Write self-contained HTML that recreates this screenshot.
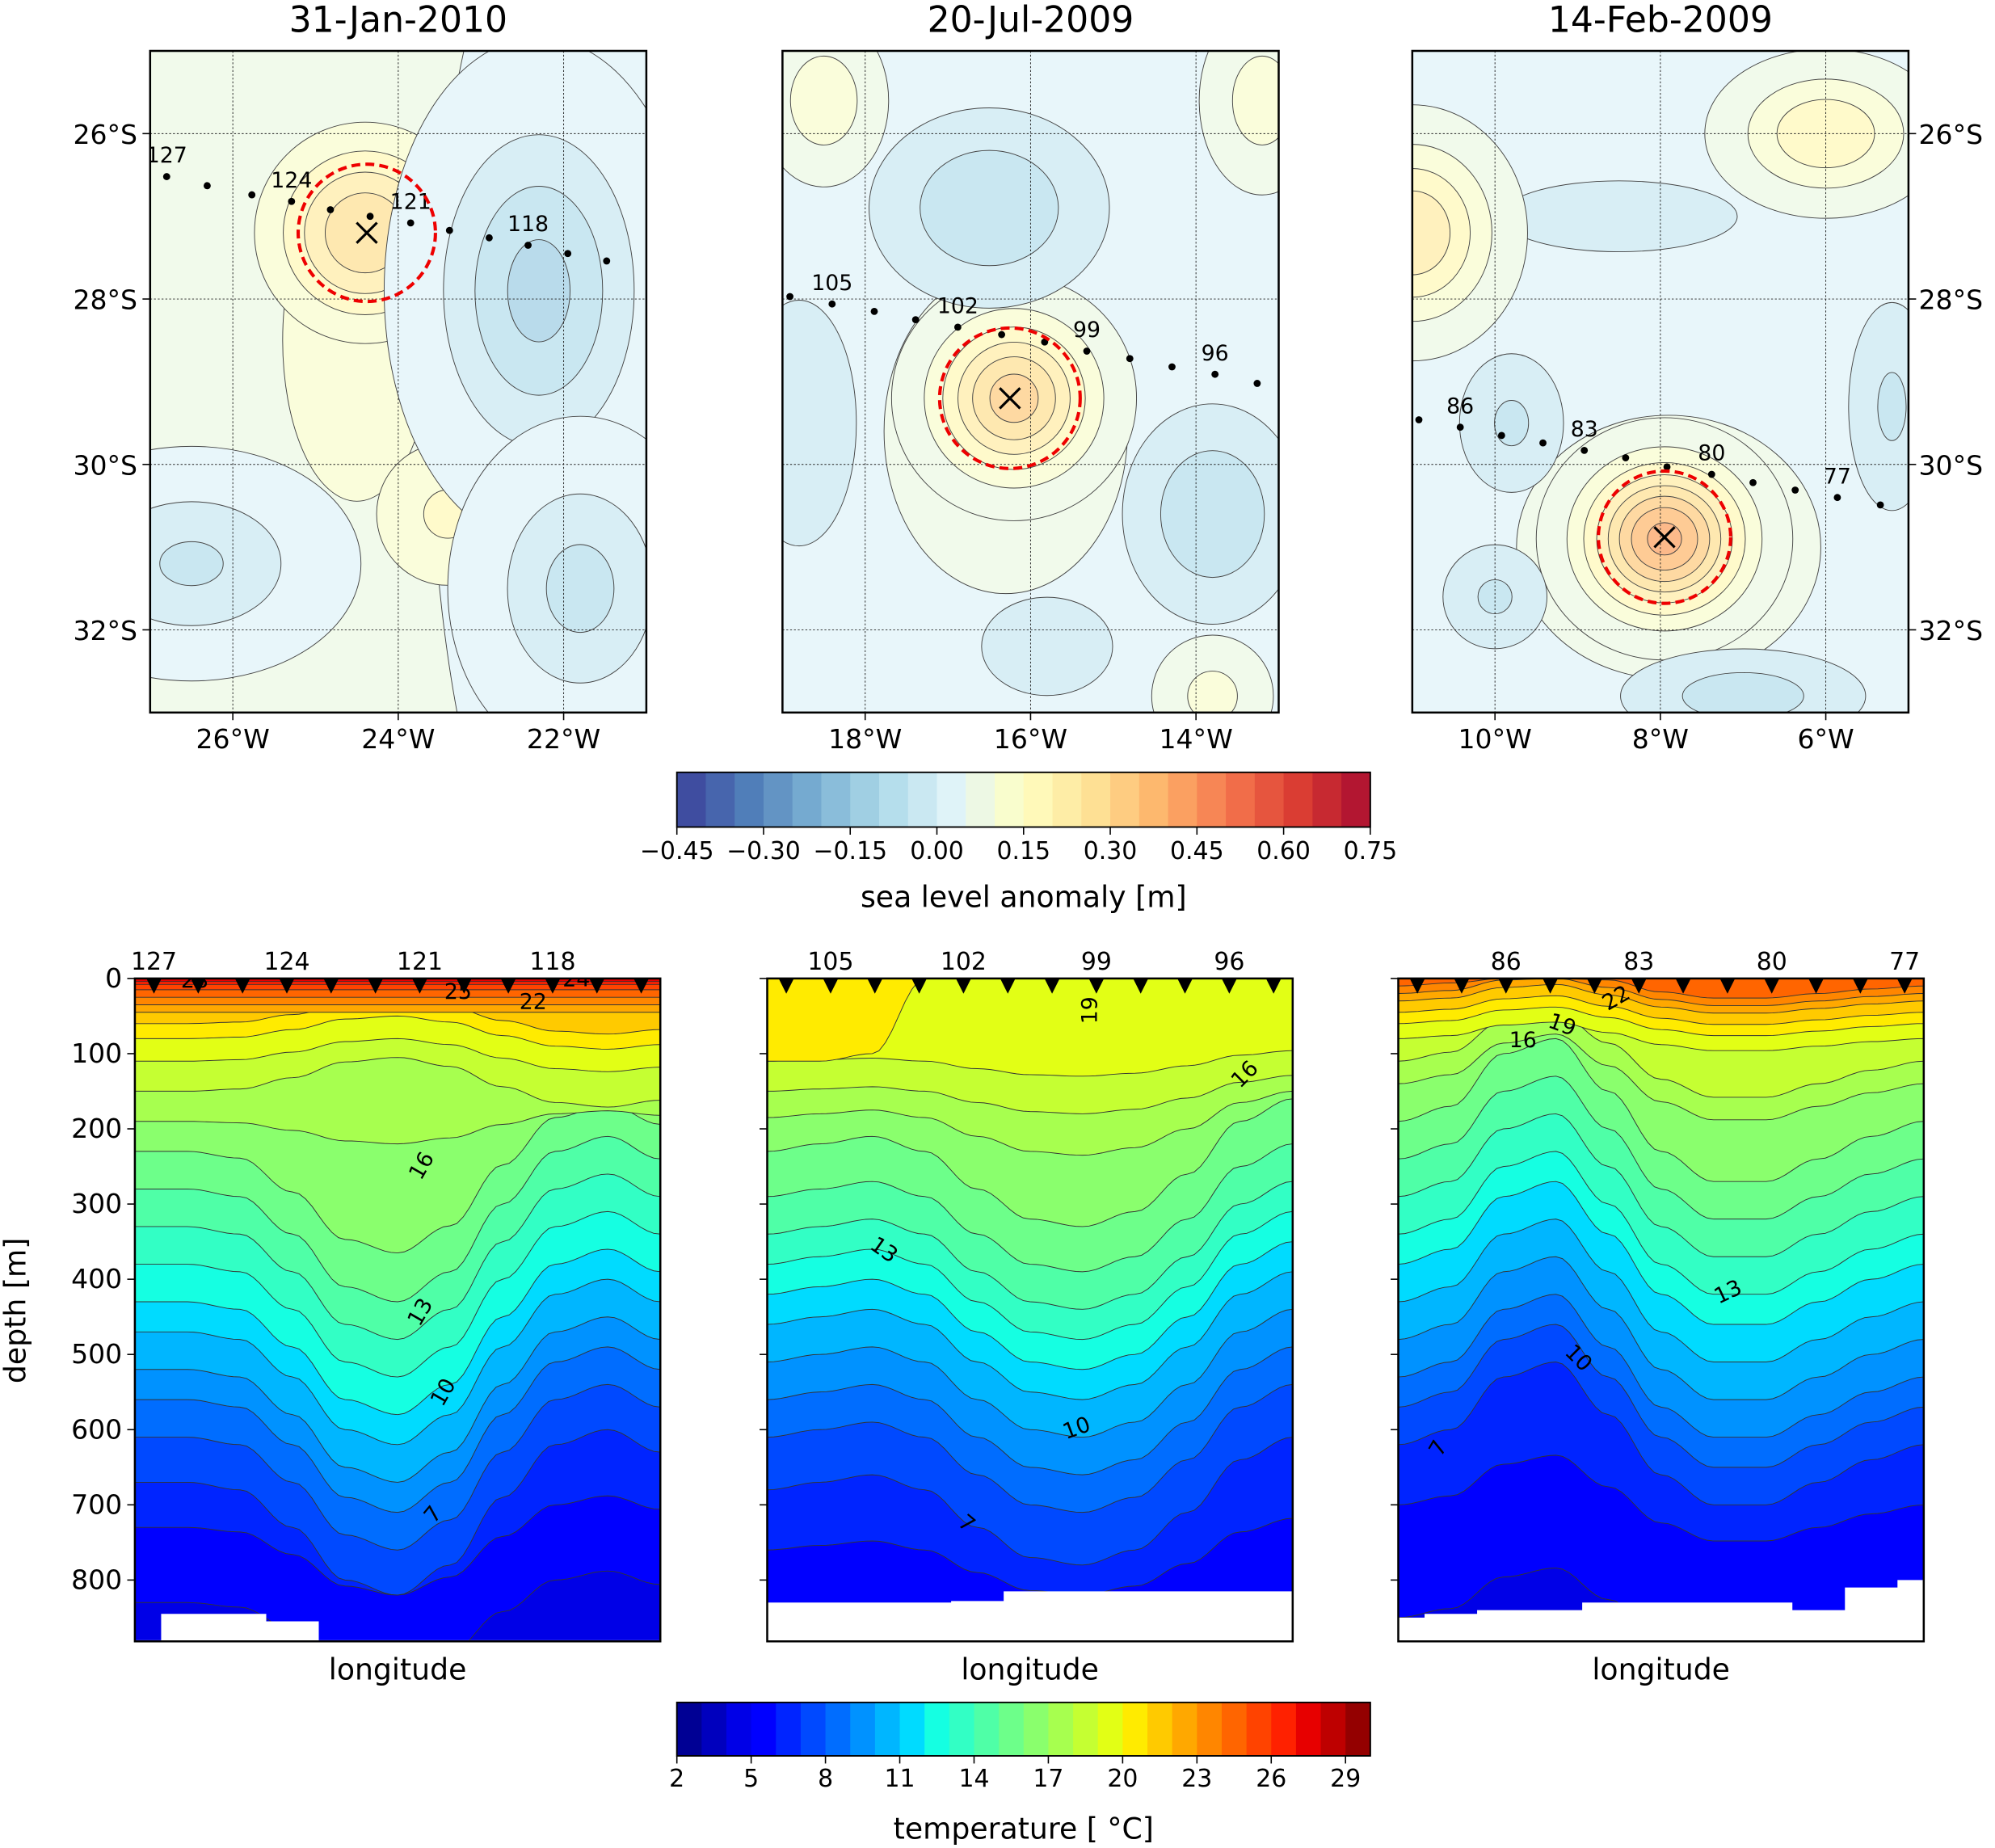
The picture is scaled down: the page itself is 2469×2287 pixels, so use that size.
<!DOCTYPE html>
<html><head><meta charset="utf-8"><style>
html,body{margin:0;padding:0;background:#fff}
svg{display:block}
text{font-family:"DejaVu Sans","Liberation Sans",sans-serif;fill:#000}
</style></head><body>
<svg id="fig" xmlns="http://www.w3.org/2000/svg" width="2469" height="2287" viewBox="0 0 1568 1452.4">
<defs id="defs"></defs>
<g id="root"></g>
</svg>
<script>
// ---------- DATA ----------
const mapTitles = ["31-Jan-2010","20-Jul-2009","14-Feb-2009"];
const mapLonRanges = [[-27,-21],[-19,-13],[-11,-5]];
const mapLonTicks = [[-26,-24,-22],[-18,-16,-14],[-10,-8,-6]];
const latTicks = [-26,-28,-30,-32];
const latRange = [-25,-33];
const slaBackground = [0.06,0.03,0.03];
// blobs: [lon, lat, amplitude(m), rlon, rlat]
const slaBlobs1 = [[-21.6,-29.2,-0.05,1.3,4.5],[-24.5,-28.5,0.13,1.2,2.6],[-24.4,-27.2,0.30,1.0,1.0],[-23.4,-30.6,0.16,0.9,0.9],[-22.3,-27.9,-0.12,1.1,1.8],[-21.8,-31.5,-0.07,1.0,1.3],[-26.5,-31.2,-0.06,1.3,0.9]];
const slaBlobs2 = [[-16.3,-29.6,0.12,1.2,1.6],[-16.2,-29.2,0.33,0.9,0.9],[-16.5,-26.9,-0.10,1.2,1.0],[-13.8,-30.6,-0.10,0.9,1.1],[-18.8,-29.5,-0.05,0.7,1.5],[-18.5,-25.6,0.14,0.6,0.8],[-13.2,-25.6,0.13,0.6,0.9],[-13.8,-32.8,0.12,0.6,0.6],[-15.8,-32.2,-0.05,0.8,0.6]];
const slaBlobs3 = [[-8.5,-27,-0.02,2,0.6],[-7.9,-31,0.12,1.5,1.3],[-7.95,-30.9,0.42,0.9,0.85],[-6,-26,0.2,1.0,0.7],[-11,-27.2,0.25,0.9,1.0],[-9.8,-29.5,-0.06,0.6,0.8],[-10,-31.6,-0.06,0.6,0.6],[-7,-32.8,-0.08,1.3,0.5],[-5.2,-29.3,-0.06,0.5,1.2]];
const eddyCenters = [[-24.38,-27.2],[-16.25,-29.2],[-7.95,-30.88]];
const eddyRadius = [0.83,0.85,0.8];
// float profile positions
const floatIds1 = [127,126,125,124,123,122,121,120,119,118,117,116];
const floatLon1 = [-26.8,-26.31,-25.77,-25.29,-24.82,-24.34,-23.85,-23.38,-22.9,-22.43,-21.95,-21.48];
const floatLat1 = [-26.52,-26.63,-26.74,-26.82,-26.92,-27.0,-27.08,-27.17,-27.26,-27.35,-27.45,-27.54];
const floatLabels1 = [127,124,121,118];
const floatIds2 = [106,105,104,103,102,101,100,99,98,97,96,95];
const floatLon2 = [-18.91,-18.4,-17.89,-17.39,-16.88,-16.35,-15.83,-15.32,-14.8,-14.29,-13.77,-13.26];
const floatLat2 = [-27.97,-28.06,-28.15,-28.25,-28.34,-28.43,-28.52,-28.63,-28.72,-28.82,-28.91,-29.02];
const floatLabels2 = [105,102,99,96];
const floatIds3 = [87,86,85,84,83,82,81,80,79,78,77,76];
const floatLon3 = [-10.92,-10.42,-9.92,-9.42,-8.92,-8.42,-7.92,-7.38,-6.88,-6.37,-5.86,-5.34];
const floatLat3 = [-29.46,-29.55,-29.65,-29.74,-29.83,-29.92,-30.03,-30.12,-30.22,-30.31,-30.4,-30.49];
const floatLabels3 = [86,83,80,77];
// temperature sections
const tempLevels = [3,4,5,6,7,8,9,10,11,12,13,14,15,16,17,18,19,20,21,22,23,24,25,26,27,28];
const baseDepth1 = [1000,1000,830,730,670,610,560,520,470,430,380,330,280,230,190,150,110,80,60,45,35,25,15,8,4,0];
const baseDepth2 = [1000,1000,900,760,680,610,560,510,460,420,380,340,290,230,185,150,110,0,0,0,0,0,0,0,0,0];
const baseDepth3 = [1000,1000,850,700,620,570,530,480,430,380,340,290,240,190,140,110,80,60,45,30,20,10,0,0,0,0];
const weight1 = [0.6,0.6,0.6,0.6,1,1,1,1,1,1,1,1,1,0.9,0.2,-0.3,-0.2,-0.2,-0.2,0,0,0,0,0,0,0];
const weight2 = [0.6,0.6,0.6,0.6,1,1,1,1,1,1,1,1,1,1,0.5,0.3,0.2,0,0,0,0,0,0,0,0,0];
const weight3 = [0.6,0.6,0.6,0.6,1,1,1,1,1,1,1,1,1,1,0.6,0.6,0.2,0.2,0.2,0.2,0.2,0.2,0,0,0,0];
const displacement1 = [0,0,10,60,130,150,110,20,-50,-70,-40];
const displacement2 = [0,-10,-20,0,50,90,100,80,30,-40,-70];
const displacement3 = [0,-20,-90,-110,-40,40,80,80,50,20,0];
const override2_20 = [110,110,100,0,0,0,0,0,0,0,0];
const noData1 = [880,845,845,855,880,880,880,880,880,880,880];
const noData2 = [830,830,830,830,828,815,815,815,815,815,815];
const noData3 = [850,845,840,840,830,830,830,830,840,810,800];
const floatIdsS1 = [127,126,125,124,123,122,121,120,119,118,117,116];
const floatIdsS2 = [106,105,104,103,102,101,100,99,98,97,96,95];
const floatIdsS3 = [88,87,86,85,84,83,82,81,80,79,78,77];
const depthTicks = [0,100,200,300,400,500,600,700,800];
const slaTicks = ["−0.45","−0.30","−0.15","0.00","0.15","0.30","0.45","0.60","0.75"];
const tempTicks = [2,5,8,11,14,17,20,23,26,29];

// ---------- HELPERS ----------
const NS="http://www.w3.org/2000/svg";
const root=document.getElementById('root');
const defs=document.getElementById('defs');
function el(tag,attrs,parent){const e=document.createElementNS(NS,tag);for(const k in attrs)e.setAttribute(k,attrs[k]);(parent||root).appendChild(e);return e;}
function txt(s,x,y,size,anchor,parent,extra){const t=el('text',Object.assign({x:x,y:y,'font-size':size,'text-anchor':anchor||'middle'},extra||{}),parent);t.textContent=s;return t;}
function lerpStops(stops,v){v=Math.max(0,Math.min(1,v));for(let i=1;i<stops.length;i++){if(v<=stops[i][0]){const a=stops[i-1],b=stops[i];const f=(v-a[0])/(b[0]-a[0]||1);return a[1]+(b[1]-a[1])*f;}}return stops[stops.length-1][1];}
function jet(v){const r=lerpStops([[0,0],[0.35,0],[0.66,1],[0.89,1],[1,0.5]],v),g=lerpStops([[0,0],[0.125,0],[0.375,1],[0.64,1],[0.91,0],[1,0]],v),b=lerpStops([[0,0.5],[0.11,1],[0.34,1],[0.65,0],[1,0]],v);return `rgb(${Math.round(r*255)},${Math.round(g*255)},${Math.round(b*255)})`;}
const RDY=["#313695","#4575b4","#74add1","#abd9e9","#e0f3f8","#ffffbf","#fee090","#fdae61","#f46d43","#d73027","#a50026"];
function hex(h){return [1,3,5].map(i=>parseInt(h.substr(i,2),16));}
function rdylbu(v,alpha){v=Math.max(0,Math.min(1,v));const p=v*10,i=Math.min(9,Math.floor(p)),f=p-i;const a=hex(RDY[i]),b=hex(RDY[i+1]);const c=a.map((x,k)=>x+(b[k]-x)*f).map(x=>Math.round(alpha*x+(1-alpha)*255));return `rgb(${c[0]},${c[1]},${c[2]})`;}
function slaColor(lo,alpha){return rdylbu((lo+0.025+0.45)/1.2,alpha===undefined?0.7:alpha);}
function tempColor(T){return jet((T-2+0.5)/28);}

// ---------- MAPS ----------
const mapX=[118,615,1110],mapW=390,mapY=40,mapH=520;
const allBlobs=[slaBlobs1,slaBlobs2,slaBlobs3];
const allFloats=[[floatIds1,floatLon1,floatLat1,floatLabels1],[floatIds2,floatLon2,floatLat2,floatLabels2],[floatIds3,floatLon3,floatLat3,floatLabels3]];
for(let p=0;p<3;p++){
  const [l0,l1]=mapLonRanges[p];
  const X=lon=>mapX[p]+(lon-l0)/(l1-l0)*mapW;
  const Y=lat=>mapY+(lat-latRange[0])/(latRange[1]-latRange[0])*mapH;
  const pxDeg=mapW/(l1-l0);
  const cp=el('clipPath',{id:'mc'+p},defs);el('rect',{x:mapX[p],y:mapY,width:mapW,height:mapH},cp);
  const g=el('g',{'clip-path':`url(#mc${p})`});
  
  
  const bg=slaBackground[p];
  el('rect',{x:mapX[p],y:mapY,width:mapW,height:mapH,fill:slaColor(Math.floor(bg/0.05)*0.05)},g);
  for(const b of allBlobs[p]){
    const [lon,lat,amp,rlo,rla]=b;const d=amp-bg;
    const levels=[];
    if(d>0){for(let L=Math.ceil(bg/0.05+1e-6)*0.05;L<amp-1e-6;L+=0.05)levels.push([L,L]);}
    else{for(let L=Math.floor(bg/0.05-1e-6)*0.05;L>amp+1e-6;L-=0.05)levels.push([L,L-0.05]);}
    for(const [L,lo] of levels){
      const k=Math.sqrt(Math.log(d/(L-bg)));
      const e=el('ellipse',{cx:X(lon),cy:Y(lat),rx:rlo*k*pxDeg,ry:rla*k*pxDeg,fill:slaColor(lo),stroke:'#444','stroke-width':0.6},g);
      
      
    }
  }
  for(const t of mapLonTicks[p])el('line',{x1:X(t),x2:X(t),y1:mapY,y2:mapY+mapH,stroke:'#222','stroke-width':0.6,'stroke-dasharray':'1.5,1.5'},g);
  for(const t of latTicks)el('line',{x1:mapX[p],x2:mapX[p]+mapW,y1:Y(t),y2:Y(t),stroke:'#222','stroke-width':0.6,'stroke-dasharray':'1.5,1.5'},g);
  const [ids,lons,lats,labs]=allFloats[p];
  for(let i=0;i<ids.length;i++){
    const c=el('circle',{cx:X(lons[i]),cy:Y(lats[i]),r:2.8,fill:'#000'},g);
    
    
    if(labs.indexOf(ids[i])>=0){const t=txt(String(ids[i]),X(lons[i]),Y(lats[i])-11,17,'middle',g);}
  }
  const [ex,ey]=eddyCenters[p];
  const ec=el('circle',{cx:X(ex),cy:Y(ey),r:eddyRadius[p]*pxDeg,fill:'none',stroke:'#e00','stroke-width':2.6,'stroke-dasharray':'7,4'},g);
  
  
  const xm=el('path',{d:`M${X(ex)-8},${Y(ey)-8}L${X(ex)+8},${Y(ey)+8}M${X(ex)-8},${Y(ey)+8}L${X(ex)+8},${Y(ey)-8}`,stroke:'#000','stroke-width':2,fill:'none'},g);
  
  
  el('rect',{x:mapX[p],y:mapY,width:mapW,height:mapH,fill:'none',stroke:'#000','stroke-width':1.6});
  const tt=txt(mapTitles[p],mapX[p]+mapW/2,25,28);
  
  
  for(const t of mapLonTicks[p]){el('line',{x1:X(t),x2:X(t),y1:mapY+mapH,y2:mapY+mapH+6,stroke:'#000'});const lt=txt(Math.abs(t)+'°W',X(t),mapY+mapH+28,21);}
  if(p===0){for(const t of latTicks){el('line',{x1:mapX[p]-6,x2:mapX[p],y1:Y(t),y2:Y(t),stroke:'#000'});const lt=txt(Math.abs(t)+'°S',mapX[p]-10,Y(t)+8,21,'end');}}
  if(p===2){for(const t of latTicks){el('line',{x1:mapX[p]+mapW,x2:mapX[p]+mapW+6,y1:Y(t),y2:Y(t),stroke:'#000'});const lt=txt(Math.abs(t)+'°S',mapX[p]+mapW+8,Y(t)+8,21,'start');}}
}

// ---------- COLORBARS ----------
const cbX=532,cbW=545;
(function(){
  const g=el('g',{});
  const n=24;for(let i=0;i<n;i++){el('rect',{x:cbX+i*cbW/n,y:607,width:cbW/n+0.5,height:43,fill:slaColor(-0.45+i*0.05,0.95)},g);}
  el('rect',{x:cbX,y:607,width:cbW,height:43,fill:'none',stroke:'#000','stroke-width':1.2},g);
  slaTicks.forEach((s,i)=>{const x=cbX+i*cbW/8;el('line',{x1:x,x2:x,y1:650,y2:656,stroke:'#000'},g);txt(s,x,675,19,'middle',g);});
  txt('sea level anomaly [m]',cbX+cbW/2,713,23,'middle',g);
  const g2=el('g',{});
  for(let i=0;i<28;i++){el('rect',{x:cbX+i*cbW/28,y:1338,width:cbW/28+0.5,height:42,fill:tempColor(2+i)},g2);}
  el('rect',{x:cbX,y:1338,width:cbW,height:42,fill:'none',stroke:'#000','stroke-width':1.2},g2);
  tempTicks.forEach(t=>{const x=cbX+(t-2)/28*cbW;el('line',{x1:x,x2:x,y1:1380,y2:1386,stroke:'#000'},g2);txt(String(t),x,1404,19,'middle',g2);});
  txt('temperature [ °C]',cbX+cbW/2,1445,23,'middle',g2);
})();

// ---------- SECTIONS ----------
const secX=[106,603,1099],secW=413,secY=769,secH=521,pxPerM=0.591;
const bases=[baseDepth1,baseDepth2,baseDepth3],weights=[weight1,weight2,weight3],disps=[displacement1,displacement2,displacement3],nods=[noData1,noData2,noData3];
const sIds=[floatIdsS1,floatIdsS2,floatIdsS3];
const sLabs=[floatLabels1,floatLabels2,floatLabels3];
const secLabels=[
 [["28",153,776,0],["25",360,785,0],["22",419,793,0],["24",453,775,0],["16",331,922,-60],["13",330,1037,-60],["10",348,1100,-60],["7",340,1196,-50]],
 [["19",856,800,-90],["16",978,850,-45],["13",695,988,35],["10",846,1128,-20],["7",760,1203,40]],
 [["22",1270,790,-30],["19",1228,811,20],["16",1197,823,0],["13",1358,1021,-25],["10",1241,1073,45],["7",1130,1144,-60]]];
function smoothPts(arr,x0){const pts=[];const N=80;for(let k=0;k<=N;k++){const f=k/N*10,i=Math.min(9,Math.floor(f)),t=f-i;const s=(1-Math.cos(Math.PI*t))/2;pts.push([x0+k/N*secW,arr[i]+(arr[i+1]-arr[i])*s]);}return pts;}
for(let p=0;p<3;p++){
  const x0=secX[p];const Yd=d=>secY+Math.min(d,1000)*pxPerM;
  const cp=el('clipPath',{id:'sc'+p},defs);el('rect',{x:x0,y:secY,width:secW,height:secH},cp);
  const g=el('g',{'clip-path':`url(#sc${p})`});
  
  
  el('rect',{x:x0,y:secY,width:secW,height:secH,fill:tempColor(3)},g);
  tempLevels.forEach((T,j)=>{
    let arr=disps[p].map(d=>Math.max(0,bases[p][j]+d*weights[p][j]));
    if(p===1&&T===20)arr=override2_20.slice();
    if(bases[p][j]===0&&!(p===1&&T===20))return;
    const pts=smoothPts(arr,x0);
    const d='M'+x0+','+secY+' '+pts.map(q=>'L'+q[0].toFixed(1)+','+Yd(q[1]).toFixed(1)).join(' ')+' L'+(x0+secW)+','+secY+'Z';
    const band=el('path',{d:d,fill:tempColor(T)},g);
    
    
    const line=el('path',{d:'M'+pts.map(q=>q[0].toFixed(1)+','+Yd(q[1]).toFixed(1)).join(' L'),fill:'none',stroke:'#333','stroke-width':0.6},g);
    
    
  });
  let nd='M'+x0+','+(secY+secH);for(let i=0;i<11;i++){const xa=x0+i/10*secW-secW/20,xb=xa+secW/10;nd+=` L${xa},${Yd(nods[p][i])} L${xb},${Yd(nods[p][i])}`;}nd+=` L${x0+secW},${secY+secH}Z`;
  const ndp=el('path',{d:nd,fill:'#fff'},g);
  for(const [s,x,y,r] of secLabels[p]){const t=txt(s,x,y,17,'middle',g,{transform:`rotate(${r},${x},${y-6})`});}
  el('rect',{x:x0,y:secY,width:secW,height:secH,fill:'none',stroke:'#000','stroke-width':1.6});
  sIds[p].forEach((id,i)=>{const x=x0+15+i*(secW-30)/11;const m=el('path',{d:`M${x-6},${secY}L${x+6},${secY}L${x},${secY+12}Z`,fill:'#000'});
    if(sLabs[p].indexOf(id)>=0){const t=txt(String(id),x,secY-7,19);}});
  depthTicks.forEach(d=>{el('line',{x1:x0-6,x2:x0,y1:Yd(d),y2:Yd(d),stroke:'#000'});if(p===0){const t=txt(String(d),x0-10,Yd(d)+7,21,'end');}});
  const xl=txt('longitude',x0+secW/2,1320,23);
}
const yt=txt('depth [m]',20,1030,23,'middle',root,{transform:'rotate(-90,20,1030)'});


</script>
</body></html>
